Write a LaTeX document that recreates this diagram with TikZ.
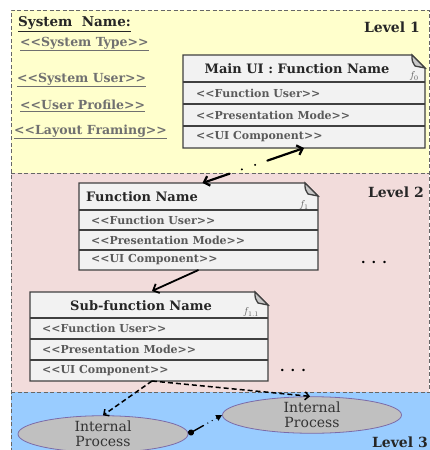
\documentclass[tikz,border=0pt]{standalone}
\usepackage{fontspec}
\setmainfont{DejaVu Serif}[Ligatures=TeXOff]
\usetikzlibrary{arrows.meta,shapes.geometric,calc}

\definecolor{lvlone}{HTML}{FFFFCC}
\definecolor{lvltwo}{HTML}{F2DCDB}
\definecolor{lvlthree}{HTML}{99CCFF}
\definecolor{boxfill}{HTML}{F2F2F2}
\definecolor{foldfill}{HTML}{C8C8C8}
\definecolor{procfill}{HTML}{C0C0C0}
\definecolor{procline}{HTML}{7B6BA8}
\definecolor{rowtext}{HTML}{5A5A5A}
\definecolor{listtext}{HTML}{707070}

\newcommand\foldsize{13}

% Function box with a folded corner: name, north-west corner, width,
% title height, row height (three rows below the title)
\newcommand\notebox[5]{%
  \node[anchor=north west, inner sep=0pt, outer sep=0pt,
        minimum width=#3pt, minimum height=#4pt+3*#5pt] (#1) at #2 {};
  \path[fill=boxfill] (#1.north west) -- ($(#1.north east)+(-\foldsize,0)$)
     -- ($(#1.north east)+(0,\foldsize)$) -- (#1.south east)
     -- (#1.south west) -- cycle;
  \foreach \k in {0,1,2} {
    \draw[boxline] ($(#1.north west)+(0,{#4+\k*#5})$)
      -- ($(#1.north east)+(0,{#4+\k*#5})$);
  }
  \draw[boxline] (#1.north west) -- ($(#1.north east)+(-\foldsize,0)$)
     -- ($(#1.north east)+(0,\foldsize)$) -- (#1.south east)
     -- (#1.south west) -- cycle;
  \draw[boxline, fill=foldfill] ($(#1.north east)+(-\foldsize,0)$)
     .. controls ($(#1.north east)+(-\foldsize,6)$) .. ($(#1.north east)+(-10,11)$)
     -- ($(#1.north east)+(0,\foldsize)$) -- cycle;
}

\begin{document}
\begin{tikzpicture}[x=1pt, y=-1pt,
  lvlframe/.style={draw=black!60, dash pattern=on 4pt off 2.5pt, line width=1pt},
  boxline/.style={draw=black!75, line width=1.3pt},
  boxtitle/.style={font=\fontsize{13}{15}\selectfont\bfseries, text=black!85, inner sep=0pt},
  rowtxt/.style={font=\fontsize{11}{13}\selectfont\bfseries, text=rowtext, inner sep=0pt, anchor=west},
  flabel/.style={font=\fontsize{10}{12}\selectfont, text=black!65, inner sep=0pt},
  sysitem/.style={font=\fontsize{12.5}{14}\selectfont\bfseries, text=listtext, inner sep=0pt, anchor=west},
  levellabel/.style={font=\fontsize{14}{16}\selectfont\bfseries, text=black!85, inner sep=0pt, anchor=east},
  moredots/.style={font=\fontsize{13}{15}\selectfont\bfseries, inner sep=0pt},
  process/.style={ellipse, draw=procline, fill=procfill, line width=0.8pt, align=center,
    inner sep=0pt, font=\fontsize{14}{15}\selectfont, text=black!80},
  link/.style={line width=1.8pt, -{Straight Barb[length=5pt,width=10pt]}},
  duallink/.style={line width=2.2pt, line cap=round,
    {Straight Barb[length=5pt,width=10pt]}-{Straight Barb[length=5pt,width=10pt]},
    dash pattern=on 26pt off 13pt on 0pt off 14pt on 0pt off 13pt on 100pt},
  calllink/.style={line width=1.5pt, dash pattern=on 5pt off 3pt,
    -{Straight Barb[length=4pt,width=8pt]}},
  flowlink/.style={line width=1.4pt, line cap=round,
    {Circle[length=6pt]}-{Triangle[length=6pt,width=6pt]},
    dash pattern=on 12pt off 5pt on 0pt off 5pt on 0pt off 5pt on 40pt},
]
\useasboundingbox (0,0) rectangle (430,450);

% level bands
\fill[lvlone] (11,10) rectangle (429,173);
\fill[lvltwo] (11,173) rectangle (429,392);
\fill[lvlthree] (11,392) rectangle (430,450);
\draw[lvlframe] (11,452) -- (11,10) -- (429,10) -- (429,392);
\draw[lvlframe] (11,173) -- (429,173);
\draw[lvlframe] (11,392) -- (430,392);

\node[levellabel] (lv1) at (420,27) {Level 1};
\node[levellabel] (lv2) at (424,192) {Level 2};
\node[levellabel] (lv3) at (428,442) {Level 3};

% system description
\node[sysitem, text=black!85, font=\fontsize{13.5}{15}\selectfont\bfseries] (sysname) at (18,24) {\underline{System\ \ Name:}};
\node[sysitem] (systype) at (20,44) {\underline{<<System Type>>}};
\node[sysitem] (sysuser) at (17,80) {\underline{<<System User>>}};
\node[sysitem] (profile) at (20,106) {\underline{<<User Profile>>}};
\node[sysitem] (layout) at (14,132) {\underline{<<Layout Framing>>}};

% main UI function
\notebox{main}{(183,55)}{242}{27}{22}
\node[boxtitle] (main-t) at (297,69) {Main UI : Function Name};
\node[flabel] (main-f) at (414,76) {$f_0$};
\node[rowtxt] (main-r1) at (196,93) {<<Function User>>};
\node[rowtxt] (main-r2) at (196,115) {<<Presentation Mode>>};
\node[rowtxt] (main-r3) at (196,137) {<<UI Component>>};

% level-2 function
\notebox{func}{(79,183)}{239}{27}{20}
\node[boxtitle, anchor=west] (func-t) at (86,197) {Function Name};
\node[flabel] (func-f) at (304,205) {$f_1$};
\node[rowtxt] (func-r1) at (91,220) {<<Function User>>};
\node[rowtxt] (func-r2) at (91,240) {<<Presentation Mode>>};
\node[rowtxt] (func-r3) at (91,260) {<<UI Component>>};

% sub-function
\notebox{sub}{(30,292)}{238}{26}{21}
\node[boxtitle] (sub-t) at (141,306) {Sub-function Name};
\node[flabel] (sub-f) at (251,312) {$f_{1.1}$};
\node[rowtxt] (sub-r1) at (42,328.5) {<<Function User>>};
\node[rowtxt] (sub-r2) at (42,349.5) {<<Presentation Mode>>};
\node[rowtxt] (sub-r3) at (42,370.5) {<<UI Component>>};

\node[moredots] (more2) at (374,262) {. . .};
\node[moredots] (more3) at (293,370) {. . .};

% internal processes
\node[process, minimum width=170pt, minimum height=27pt] (proc1) at (103,434) {Internal\\Process};
\node[process, minimum width=179pt, minimum height=26pt] (proc2) at (312,415) {Internal\\Process};

% connectors
\draw[duallink] ($(func.north)+(4,0)$) -- (main.south);
\draw[link] (func.south) -- ($(sub.north)+(3,-1)$);
\draw[calllink] ($(sub.south)+(3,0)$) -- (proc1.north);
\draw[calllink] ($(sub.south)+(3,0)$) -- ($(proc2.north)+(-2,0)$);
\draw[flowlink] (proc1.east) -- (proc2.west);
\end{tikzpicture}
\end{document}
